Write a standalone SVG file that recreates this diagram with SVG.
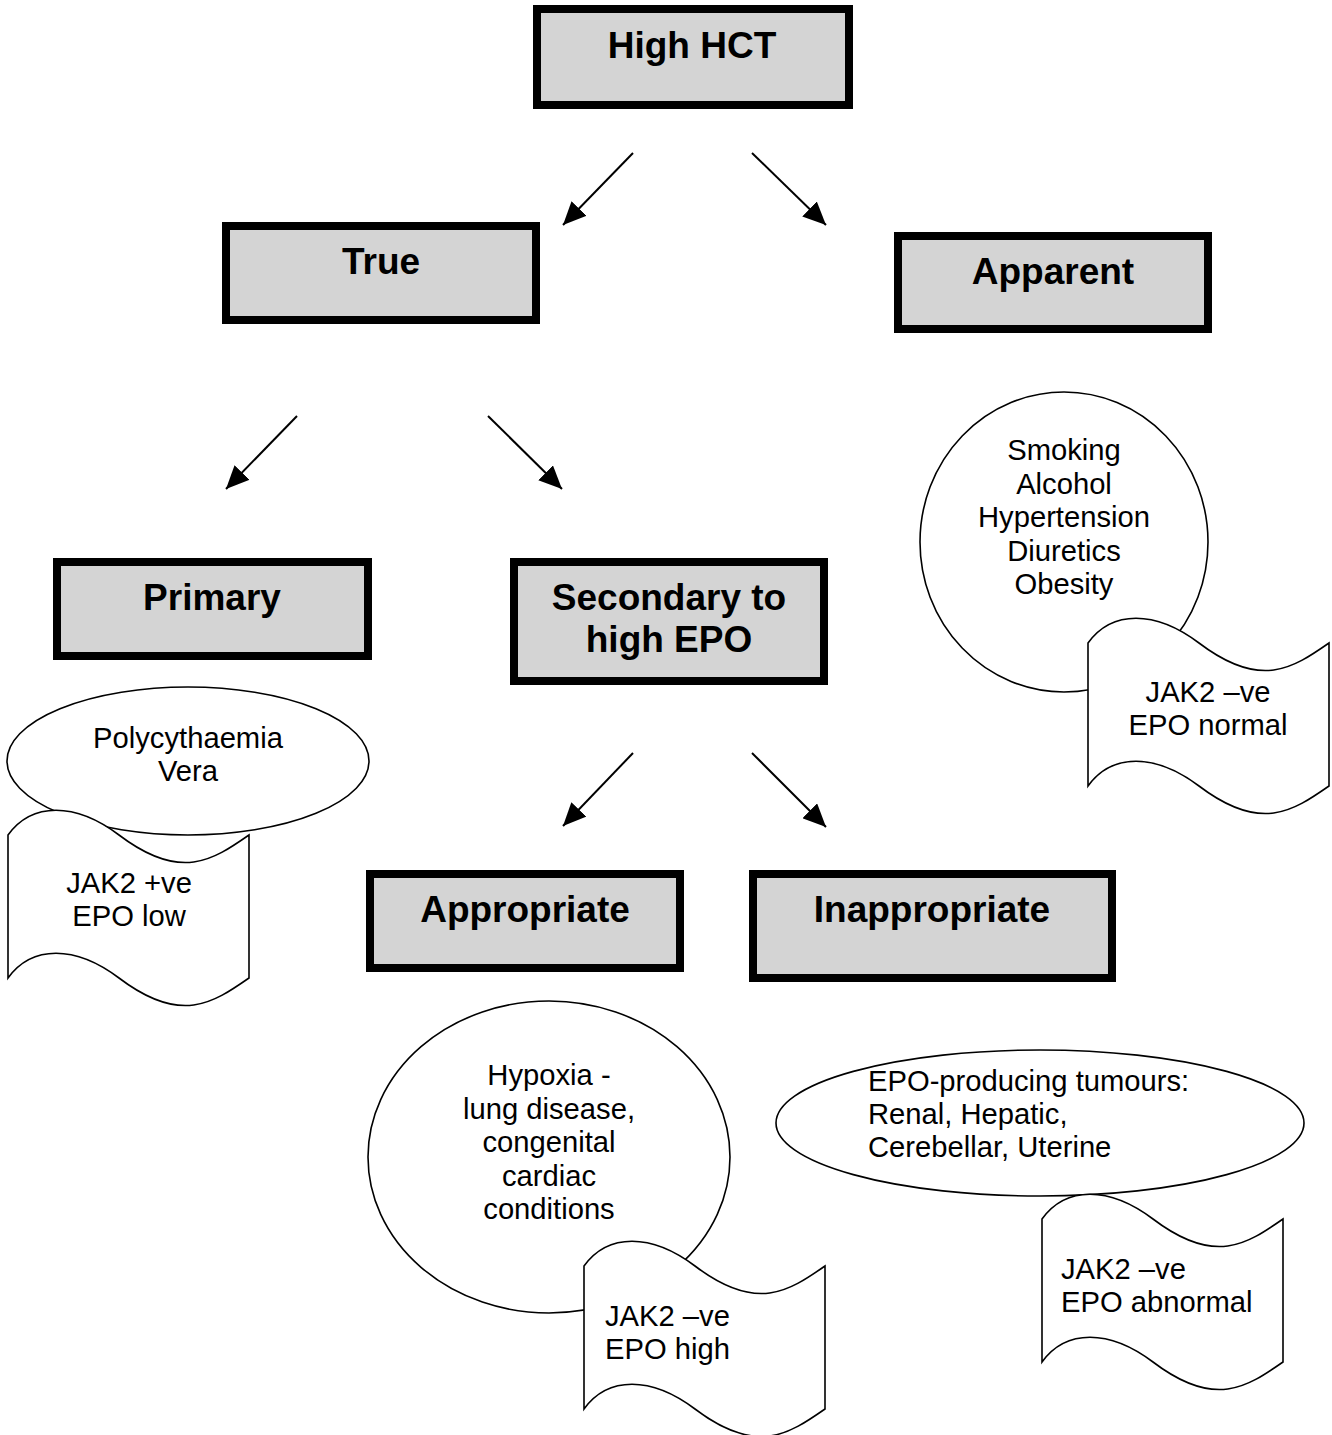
<svg xmlns="http://www.w3.org/2000/svg" width="1332" height="1435" viewBox="0 0 1332 1435">
<defs>
<style>
.box{fill:#d4d4d4;stroke:#000;stroke-width:8}
.hd{font-family:"Liberation Sans",Arial,sans-serif;font-weight:bold;font-size:37px;fill:#000;text-anchor:middle}
.sh{fill:#fff;stroke:#000;stroke-width:1.6}
.tx{font-family:"Liberation Sans",Arial,sans-serif;font-size:29.2px;fill:#000}
.c{text-anchor:middle}
.arr{stroke:#000;stroke-width:2;fill:none;marker-end:url(#ah)}
</style>
<marker id="ah" viewBox="0 0 22 20" refX="22" refY="10" markerWidth="23" markerHeight="21" orient="auto" markerUnits="userSpaceOnUse">
<path d="M0,0 L22,10 L0,20 z" fill="#000"/>
</marker>
<path id="tape" d="M0,0 C24,-33 67,-33 111,0 C173,47 205,25 241,0 L241,143 C205,168 173,190 111,143 C67,110 24,110 0,143 Z"/>
</defs>
<rect width="1332" height="1435" fill="#fff"/>

<g id="connectors">
<line class="arr" x1="633" y1="153" x2="563" y2="225"/>
<line class="arr" x1="752" y1="153" x2="826" y2="225"/>
<line class="arr" x1="297" y1="416" x2="226" y2="489"/>
<line class="arr" x1="488" y1="416" x2="562" y2="489"/>
<line class="arr" x1="633" y1="753" x2="563" y2="826"/>
<line class="arr" x1="752" y1="753" x2="826" y2="827"/>
</g>

<g id="high-hct">
<rect class="box" x="537" y="9" width="312" height="96"/>
<text class="hd" x="692" y="58">High HCT</text>
</g>
<g id="true">
<rect class="box" x="226" y="226" width="310" height="94"/>
<text class="hd" x="381" y="274">True</text>
</g>
<g id="apparent">
<rect class="box" x="898" y="236" width="310" height="93"/>
<text class="hd" x="1053" y="284">Apparent</text>
</g>
<g id="primary">
<rect class="box" x="57" y="562" width="311" height="94"/>
<text class="hd" x="212" y="610">Primary</text>
</g>
<g id="secondary">
<rect class="box" x="514" y="562" width="310" height="119"/>
<text class="hd" x="669" y="610">Secondary to</text>
<text class="hd" x="669" y="652">high EPO</text>
</g>
<g id="appropriate">
<rect class="box" x="370" y="874" width="310" height="94"/>
<text class="hd" x="525" y="922">Appropriate</text>
</g>
<g id="inappropriate">
<rect class="box" x="753" y="874" width="359" height="104"/>
<text class="hd" x="932" y="922">Inappropriate</text>
</g>

<g id="apparent-causes">
<ellipse class="sh" cx="1064" cy="542" rx="144" ry="150"/>
<text class="tx c" x="1064" y="460">Smoking</text>
<text class="tx c" x="1064" y="494">Alcohol</text>
<text class="tx c" x="1064" y="527">Hypertension</text>
<text class="tx c" x="1064" y="561">Diuretics</text>
<text class="tx c" x="1064" y="594">Obesity</text>
</g>
<g id="apparent-tests">
<use href="#tape" class="sh" transform="translate(1088,643)"/>
<text class="tx c" x="1208" y="702">JAK2 –ve</text>
<text class="tx c" x="1208" y="735">EPO normal</text>
</g>

<g id="primary-causes">
<ellipse class="sh" cx="188" cy="761" rx="181" ry="74"/>
<text class="tx c" x="188" y="748">Polycythaemia</text>
<text class="tx c" x="188" y="781">Vera</text>
</g>
<g id="primary-tests">
<use href="#tape" class="sh" transform="translate(8,835)"/>
<text class="tx c" x="129" y="893">JAK2 +ve</text>
<text class="tx c" x="129" y="926">EPO low</text>
</g>

<g id="appropriate-causes">
<ellipse class="sh" cx="549" cy="1157" rx="181" ry="156"/>
<text class="tx c" x="549" y="1085">Hypoxia -</text>
<text class="tx c" x="549" y="1119">lung disease,</text>
<text class="tx c" x="549" y="1152">congenital</text>
<text class="tx c" x="549" y="1186">cardiac</text>
<text class="tx c" x="549" y="1219">conditions</text>
</g>
<g id="appropriate-tests">
<use href="#tape" class="sh" transform="translate(584,1266)"/>
<text class="tx" x="605" y="1326">JAK2 –ve</text>
<text class="tx" x="605" y="1359">EPO high</text>
</g>

<g id="inappropriate-causes">
<ellipse class="sh" cx="1040" cy="1123" rx="264" ry="73"/>
<text class="tx" x="868" y="1091">EPO-producing tumours:</text>
<text class="tx" x="868" y="1124">Renal, Hepatic,</text>
<text class="tx" x="868" y="1157">Cerebellar, Uterine</text>
</g>
<g id="inappropriate-tests">
<use href="#tape" class="sh" transform="translate(1042,1219)"/>
<text class="tx" x="1061" y="1279">JAK2 –ve</text>
<text class="tx" x="1061" y="1312">EPO abnormal</text>
</g>
</svg>
